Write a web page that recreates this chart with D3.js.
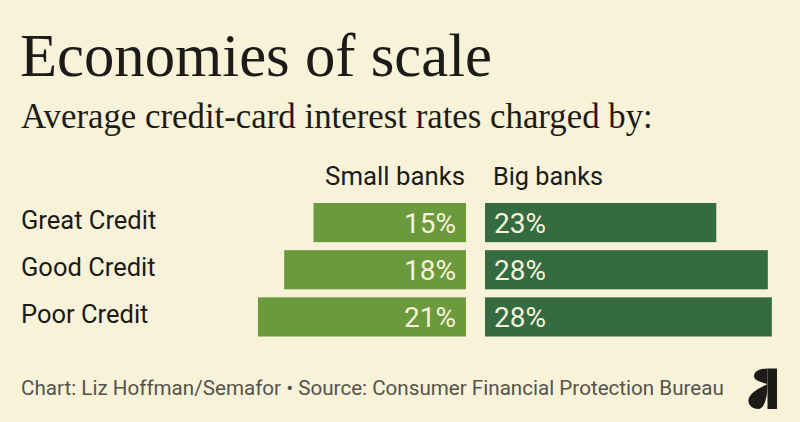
<!DOCTYPE html>
<html>
<head>
<meta charset="utf-8">
<script src="https://cdn.jsdelivr.net/npm/d3@7"></script>
<style>
  html, body { margin: 0; padding: 0; background: #f8f2d8; }
  svg { display: block; }
  .serif { font-family: "Liberation Serif", "DejaVu Serif", serif; fill: #1c1b18; }
  .sans { font-family: Roboto, "Noto Sans", sans-serif; }
</style>
</head>
<body>
<div id="chart"></div>
<script>
// data
var categories = ["Great Credit", "Good Credit", "Poor Credit"];
var smallBanks = [15.1, 18.0, 20.6];
var bigBanks = [22.9, 28.0, 28.4];
var seriesNames = ["Small banks", "Big banks"];

var width = 800, height = 422;

var svg = d3.select("#chart").append("svg")
    .attr("width", width)
    .attr("height", height);

svg.append("rect")
    .attr("width", width)
    .attr("height", height)
    .attr("fill", "#f8f2d8");

// shrink/grow a text so it spans a given width
function fitWidth(sel, target) {
    var size = parseFloat(sel.attr("font-size"));
    var len = sel.node().getComputedTextLength();
    sel.attr("font-size", (size * target / len).toFixed(2));
}

//title
var title = svg.append("text")
    .attr("class", "serif")
    .attr("x", 20)
    .attr("y", 76)
    .attr("font-size", 60)
    .text("Economies of scale");
fitWidth(title, 472);

var subtitle = svg.append("text")
    .attr("class", "serif")
    .attr("x", 21)
    .attr("y", 128)
    .attr("font-size", 30)
    .text("Average credit-card interest rates charged by:");
fitWidth(subtitle, 632);

//scales
var y = d3.scaleBand()
    .domain(categories)
    .range([203, 336.5])
    .paddingInner(0.17)
    .paddingOuter(0);

var x = d3.scaleLinear()
    .domain([0, 30])
    .range([0, 303]);

var midLeft = 466, midRight = 485;

var rows = categories.map(function(c, i) {
    return {cat: c, small: smallBanks[i], big: bigBanks[i]};
});

var fmt = function(v) { return d3.format(".0f")(v) + "%"; };

//headers
var hSmall = svg.append("text")
    .attr("class", "sans")
    .attr("x", midLeft - 1)
    .attr("y", 185)
    .attr("text-anchor", "end")
    .attr("font-size", 26)
    .attr("fill", "#1c1b18")
    .text(seriesNames[0]);
fitWidth(hSmall, 140);

var hBig = svg.append("text")
    .attr("class", "sans")
    .attr("x", midRight + 8)
    .attr("y", 185)
    .attr("font-size", 26)
    .attr("fill", "#1c1b18")
    .text(seriesNames[1]);
fitWidth(hBig, 110);

//row labels
svg.selectAll(".rowlabel")
    .data(rows)
    .enter().append("text")
    .attr("class", "rowlabel sans")
    .attr("x", 21)
    .attr("y", function(d) { return y(d.cat) + y.bandwidth() / 2 + 6; })
    .attr("font-size", 25.5)
    .attr("fill", "#1c1b18")
    .text(function(d) { return d.cat; });

//bars
svg.selectAll(".sbar")
    .data(rows)
    .enter().append("rect")
    .attr("class", "sbar")
    .attr("x", function(d) { return midLeft - x(d.small); })
    .attr("y", function(d) { return y(d.cat); })
    .attr("width", function(d) { return x(d.small); })
    .attr("height", y.bandwidth())
    .attr("fill", "#6b9a3c");

svg.selectAll(".bbar")
    .data(rows)
    .enter().append("rect")
    .attr("class", "bbar")
    .attr("x", midRight)
    .attr("y", function(d) { return y(d.cat); })
    .attr("width", function(d) { return x(d.big); })
    .attr("height", y.bandwidth())
    .attr("fill", "#346b40");

//value labels
svg.selectAll(".slabel")
    .data(rows)
    .enter().append("text")
    .attr("class", "slabel sans")
    .attr("x", midLeft - 10)
    .attr("y", function(d) { return y(d.cat) + y.bandwidth() / 2 + 10; })
    .attr("text-anchor", "end")
    .attr("font-size", 28)
    .attr("fill", "#f6f2dc")
    .text(function(d) { return fmt(d.small); });

svg.selectAll(".blabel")
    .data(rows)
    .enter().append("text")
    .attr("class", "blabel sans")
    .attr("x", midRight + 9)
    .attr("y", function(d) { return y(d.cat) + y.bandwidth() / 2 + 10; })
    .attr("font-size", 28)
    .attr("fill", "#f6f2dc")
    .text(function(d) { return fmt(d.big); });

//footer
var footer = svg.append("text")
    .attr("class", "sans")
    .attr("x", 21)
    .attr("y", 395)
    .attr("font-size", 19)
    .attr("fill", "#55534c")
    .text("Chart: Liz Hoffman/Semafor \u2022 Source: Consumer Financial Protection Bureau");
fitWidth(footer, 703);

//logo
var logo = svg.append("g")
    .attr("transform", "translate(745,368)")
    .attr("fill", "#1c1b18");
logo.append("rect")
    .attr("x", 22.5)
    .attr("y", 0.5)
    .attr("width", 9.5)
    .attr("height", 40.5);
logo.append("path")
    .attr("d", "M22.5,0.5 C15,0.5 9,3 9,8 C9,11 11,13 22.5,16 Z");
logo.append("path")
    .attr("d", "M22.5,16 C22.5,28 20,41 13,41 C7,41 3,37 3.5,32 C4,26 12,21 22.5,16 Z");
</script>
</body>
</html>
